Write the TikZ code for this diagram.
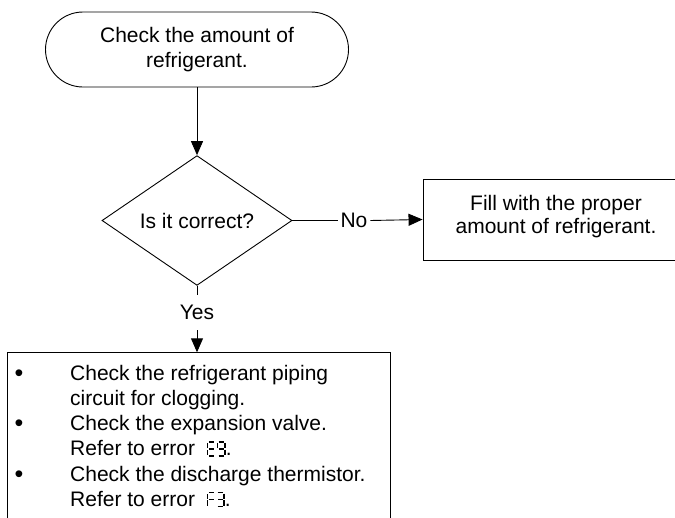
\documentclass[tikz,border=0pt]{standalone}
\usepackage{fontspec}
\setmainfont{Liberation Sans}
\usetikzlibrary{shapes.geometric,arrows.meta}
\tikzset{sevenseg/.style={baseline=0pt,x=1pt,y=1pt,line width=1.4pt}}
\newcommand\sgE{\tikz[sevenseg]{\draw (1,14)--(6.5,14) (1,0)--(6.5,0) (0,1)--(0,6.2) (0,7.8)--(0,13) (1,7)--(6,7);}}
\newcommand\sgNine{\tikz[sevenseg]{\draw (1,14)--(6.5,14) (7.5,13)--(7.5,7.8) (7.5,6.2)--(7.5,1) (1,0)--(6.5,0) (0,7.8)--(0,13) (1,7)--(6.5,7);}}
\newcommand\sgF{\tikz[sevenseg]{\draw (1,14)--(6.5,14) (0,1)--(0,6.2) (0,7.8)--(0,13) (1,7)--(6,7);}}
\newcommand\sgThree{\tikz[sevenseg]{\draw (1,14)--(6.5,14) (7.5,13)--(7.5,7.8) (7.5,6.2)--(7.5,1) (1,0)--(6.5,0) (1.5,7)--(6.5,7);}}
\newcommand\bul{\raisebox{-1pt}{\fontsize{25}{25}\selectfont •}}
\begin{document}
\begin{tikzpicture}[x=1pt,y=-1pt,line width=0.9pt,
  txt/.style={font=\fontsize{21}{25}\selectfont,align=center},
  arr/.style={-{Triangle[length=14pt,width=12pt]}},
  box/.style={draw,inner sep=0pt}]
\fill[white] (0,0) rectangle (675,517);
\useasboundingbox (0,0) rectangle (675,517);
\node[box,txt,rounded corners=37.5pt,minimum width=303pt,minimum height=75pt] (term) at (197,49.5) {Check the amount of\\refrigerant.};
\node[box,diamond,txt,minimum width=190pt,minimum height=114pt] (dia) at (197,220.5) {Is it correct?};
\node[box,txt,font=\fontsize{21}{22.7}\selectfont,text depth=10pt,minimum width=266pt,minimum height=81pt] (fill) at (556,219.5) {Fill with the proper\\amount of refrigerant.};
\node[txt,inner xsep=2.5pt,inner ysep=0pt] (no) at (354,220.5) {No};
\node[txt,inner sep=0pt,minimum height=34.5pt] (yes) at (197,312.3) {Yes};
\node[box,anchor=north west,minimum width=382.7pt,minimum height=200pt] (chk) at (7.3,352.3) {};
\node[anchor=base west,inner sep=0pt,font=\fontsize{21}{25.3}\selectfont] (chktxt) at (14.5,380) {\begin{tabular}[t]{@{}p{55.5pt}@{}l@{}}
\bul & Check the refrigerant piping\\
 & circuit for clogging.\\
\bul & Check the expansion valve.\\
 & Refer to error\hspace{12pt}\sgE\hspace{2pt}\sgNine.\\
\bul & Check the discharge thermistor.\\
 & Refer to error\hspace{12pt}\sgF\hspace{2pt}\sgThree.
\end{tabular}};
\draw[arr] (term.south) -- (dia.north);
\draw (dia.east) -- (no.west);
\draw[arr] (no.east) -- (fill.west);
\draw (dia.south) -- (yes.north);
\draw[arr] (yes.south) -- (yes.south |- chk.north);
\end{tikzpicture}
\end{document}
